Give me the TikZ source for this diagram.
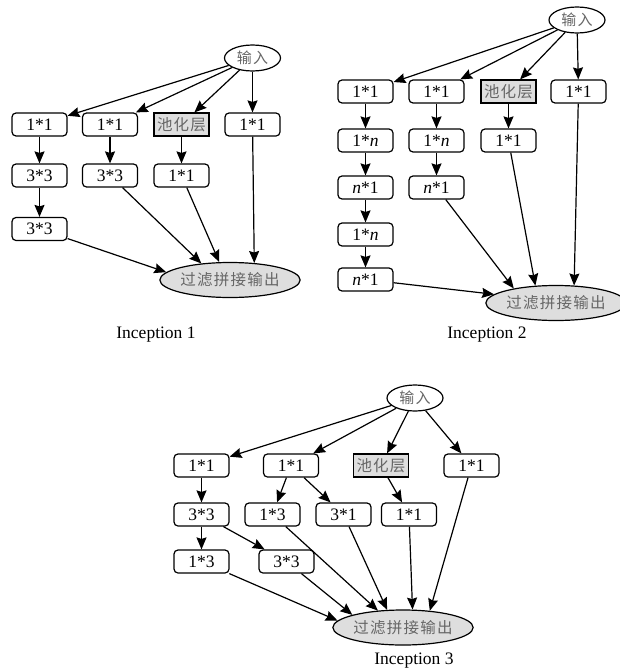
\documentclass[tikz,border=0pt]{standalone}
\usepackage{fontspec}
\setmainfont{Liberation Serif}
\newfontfamily\cjk[LetterSpace=8]{Noto Sans CJK SC}
\usetikzlibrary{shapes.geometric}
\usetikzlibrary{arrows.meta}
\definecolor{cjkgray}{gray}{0.4}
\definecolor{poolfill}{gray}{0.87}
\tikzset{x=1pt, y=-1pt,
>={Stealth[length=12pt,width=10pt,inset=1.5pt]},
every node/.style={font=\fontsize{17.5}{20}\selectfont},
block/.style={ % Sets the properties for each conv box
draw,
line width=1.2pt,
rounded corners=4pt,
minimum width=55pt, minimum height=23pt, inner sep=0pt},
pool/.style={ % pooling box, square and grey
draw,
line width=1.2pt,
fill=poolfill, text=cjkgray,
font=\cjk\fontsize{15.5}{18}\selectfont,
minimum width=55pt, minimum height=23pt, inner sep=0pt},
input/.style={ % input ellipse
ellipse, draw,
line width=1.2pt,
text=cjkgray,
font=\cjk\fontsize{15}{18}\selectfont,
minimum width=56pt, minimum height=26pt, inner sep=0pt},
concat/.style={ % filter concat output
ellipse, draw,
line width=1.2pt,
fill=poolfill, text=cjkgray,
font=\cjk\fontsize{15.5}{18}\selectfont,
minimum width=119pt, minimum height=35pt, inner sep=0pt},
every edge/.style={ % Sets the properties for each connection
draw,
->,
line width=1.2pt}}

\begin{document}
\begin{tikzpicture}
	\useasboundingbox (0,0) rectangle (619,672);
	% Inception 1
	\node[input] (in1) at (252.5,58) {输入};
	\node[block] (a1) at (39.5,124.5) {1*1};
	\node[block] (a2) at (110,124.5) {1*1};
	\node[pool] (a3) at (181.5,124.5) {池化层};
	\node[block] (a4) at (252.5,124.5) {1*1};
	\node[block] (b1) at (39.5,175.5) {3*3};
	\node[block] (b2) at (110,175.5) {3*3};
	\node[block] (b3) at (181.5,175.5) {1*1};
	\node[block] (c1) at (39.5,229) {3*3};
	\node[concat] (o1) at (230,280) {过滤拼接输出};
	\node (cap1) at (156,335) {Inception 1};
	\draw (in1) edge (a1);
	\draw (in1) edge (a2);
	\draw (in1) edge (a3);
	\draw (in1) edge (a4);
	\draw (a1) edge (b1);
	\draw (a2) edge (b2);
	\draw (a3) edge (b3);
	\draw (b1) edge (c1);
	\draw (c1) edge (o1.173);
	\draw (b2) edge (o1.150);
	\draw (b3) edge (o1.121);
	\draw (a4) edge (o1.35);

	% Inception 2
	\node[input] (in2) at (577,20) {输入};
	\node[block] (d1) at (365.5,91.5) {1*1};
	\node[block] (d2) at (436.5,91.5) {1*1};
	\node[pool] (d3) at (508.5,91.5) {池化层};
	\node[block] (d4) at (578.5,91.5) {1*1};
	\node[block] (e1) at (365.5,140.5) {1*\textit{n}};
	\node[block] (e2) at (436.5,140.5) {1*\textit{n}};
	\node[block] (e3) at (508.5,140.5) {1*1};
	\node[block] (f1) at (365.5,187.5) {\textit{n}*1};
	\node[block] (f2) at (436.5,187.5) {\textit{n}*1};
	\node[block] (g1) at (365.5,234.5) {1*\textit{n}};
	\node[block] (h1) at (365.5,279.5) {\textit{n}*1};
	\node[concat] (o2) at (556,303) {过滤拼接输出};
	\node (cap2) at (487,335) {Inception 2};
	\draw (in2) edge (d1);
	\draw (in2) edge (d2);
	\draw (in2) edge (d3);
	\draw (in2) edge (d4);
	\draw (d1) edge (e1);
	\draw (d2) edge (e2);
	\draw (d3) edge (e3);
	\draw (e1) edge (f1);
	\draw (e2) edge (f2);
	\draw (f1) edge (g1);
	\draw (g1) edge (h1);
	\draw (h1) edge (o2.172);
	\draw (f2) edge (o2.161);
	\draw (e3) edge (o2.140);
	\draw (d4) edge (o2.44);

	% Inception 3
	\node[input] (in3) at (415,398) {输入};
	\node[block] (i1) at (201.5,465.5) {1*1};
	\node[block] (i2) at (291,465.5) {1*1};
	\node[pool] (i3) at (381,465.5) {池化层};
	\node[block] (i4) at (471.5,465.5) {1*1};
	\node[block] (j1) at (201.5,514.5) {3*3};
	\node[block] (j2) at (272.5,514.5) {1*3};
	\node[block] (j3) at (343.5,514.5) {3*1};
	\node[block] (j4) at (409,514.5) {1*1};
	\node[block] (k1) at (201.5,561.5) {1*3};
	\node[block] (k2) at (286.5,561.5) {3*3};
	\node[concat] (o3) at (403,627.5) {过滤拼接输出};
	\node (cap3) at (414,661) {Inception 3};
	\draw (in3) edge (i1);
	\draw (in3) edge (i2);
	\draw (in3) edge (i3);
	\draw (in3) edge (i4);
	\draw (i1) edge (j1);
	\draw (i2) edge (j2);
	\draw (i2) edge (j3);
	\draw (i3) edge (j4);
	\draw (j1) edge (k1);
	\draw (j1) edge (k2);
	\draw (k1) edge (o3.174);
	\draw (k2) edge (o3.166);
	\draw (j2) edge (o3.146);
	\draw (j3) edge (o3.132);
	\draw (j4) edge (o3.62);
	\draw (i4) edge (o3.32);
\end{tikzpicture}
\end{document}
